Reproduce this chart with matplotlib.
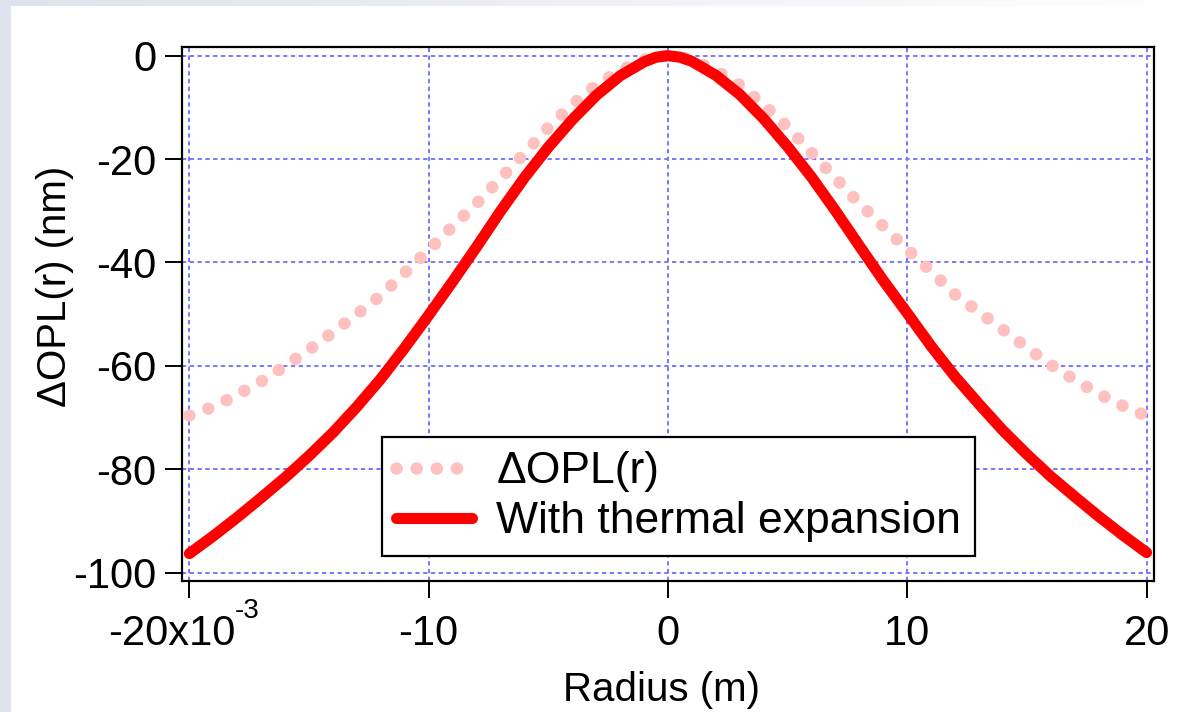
import numpy as np
import matplotlib
matplotlib.use("Agg")
import matplotlib.pyplot as plt
from matplotlib.patches import Rectangle
from matplotlib.colors import LinearSegmentedColormap

# ---------------- data (radius in units of 1e-3 m) ----------------
radius = [-20, -19, -18, -17, -16, -15, -14, -13, -12, -11, -10,
          -9, -8, -7, -6, -5, -4, -3, -2, -1, -0.5, 0,
          0.5, 1, 2, 3, 4, 5, 6, 7, 8, 9, 10,
          11, 12, 13, 14, 15, 16, 17, 18, 19, 20]

dopl = [-69.6, -67.9, -65.6, -63.0, -60.0, -56.9, -53.5, -50.0, -46.4, -42.0, -37.6,
        -33.0, -28.6, -23.8, -18.9, -13.9, -9.5, -5.7, -2.9, -0.8, -0.2, 0.0,
        -0.2, -0.8, -2.9, -5.7, -9.5, -13.8, -18.8, -23.7, -28.6, -33.0, -37.5,
        -41.7, -46.2, -49.6, -53.0, -56.5, -59.8, -62.7, -65.4, -67.7, -69.7]

thermal = [-96.3, -92.9, -89.3, -85.5, -81.6, -77.4, -72.9, -67.9, -62.5, -56.5, -50.2,
           -43.7, -37.0, -30.1, -23.6, -17.7, -12.4, -7.7, -3.9, -1.2, -0.3, 0.0,
           -0.3, -1.1, -3.8, -7.5, -12.2, -17.6, -23.5, -30.0, -36.8, -43.5, -49.8,
           -56.2, -62.1, -67.4, -72.5, -77.1, -81.4, -85.3, -89.1, -92.7, -96.1]

xticks = [-20, -10, 0, 10, 20]
xticklabels = ["", "-10", "0", "10", "20"]
first_xlabel = "-20x10"
first_xlabel_exp = "-3"
yticks = [0, -20, -40, -60, -80, -100]
yticklabels = ["0", "-20", "-40", "-60", "-80", "-100"]

labels = ["\u0394OPL(r)", "With thermal expansion"]

# ---------------- style ----------------
plt.rcParams["font.family"] = ["Liberation Sans", "DejaVu Sans"]

W, H = 1183, 712
fig = plt.figure(figsize=(W / 100, H / 100), dpi=100)
fig.patch.set_facecolor("white")

# light bluish frame strips (left and top)
fig.patches.append(Rectangle((0, 0), 11 / W, 1, transform=fig.transFigure,
                             facecolor="#dfe3ed", edgecolor="none", zorder=0))
gax = fig.add_axes([0, 1 - 6 / H, 1, 6 / H], zorder=0)
grad = np.linspace(0, 1, 256)[None, :]
cm = LinearSegmentedColormap.from_list("g", ["#dfe3ed", "#eef0f5", "#ffffff"])
gax.imshow(grad, aspect="auto", cmap=cm, extent=[0, 1, 0, 1])
gax.set_axis_off()

left, right, top, bottom = 181.7, 1154, 47.3, 581
ax = fig.add_axes([left / W, 1 - bottom / H, (right - left) / W, (bottom - top) / H])

grid_color = "#7878ff"
ax.plot(radius, dopl, color="#ffc0c0", lw=9, linestyle=(0, (0.01, 1.6)),
        dash_capstyle="round", solid_capstyle="round", zorder=3, label=labels[0])
ax.plot(radius, thermal, color="#ff0000", lw=8, solid_capstyle="round",
        solid_joinstyle="round", zorder=4, label=labels[1])

ax.set_xlim(-20.32, 20.31)
ax.set_ylim(-101.6, 1.62)

ax.set_xticks(xticks, labels=xticklabels)
ax.set_yticks(yticks, labels=yticklabels)

ax.grid(True, color=grid_color, linestyle=(0, (2.2, 1.8)), linewidth=1.4, zorder=1)
ax.set_axisbelow(True)

for s in ["left", "bottom", "top", "right"]:
    ax.spines[s].set_linewidth(1.6)
    ax.spines[s].set_color("black")

ax.tick_params(axis="both", which="major", direction="out", length=12.5,
               width=1.4, color="black", labelsize=30)
ax.tick_params(axis="x", pad=33.5)
ax.tick_params(axis="y", pad=5.5)
for t in ax.get_xticklabels():
    t.set_verticalalignment("baseline")

# first x tick label with its exponent, as in the original
base_y = (bottom - 645) / (bottom - top)
ax.text(-18.09, base_y, first_xlabel, transform=ax.get_xaxis_transform(),
        ha="right", va="baseline", fontsize=30, clip_on=False)
ax.text(-18.09, (bottom - 618) / (bottom - top), first_xlabel_exp,
        transform=ax.get_xaxis_transform(), ha="left", va="baseline",
        fontsize=20, clip_on=False)

ax.set_xlabel("Radius (m)", fontsize=29)
ax.xaxis.set_label_coords(0.493, -0.205)
ax.xaxis.label.set_verticalalignment("center")
ax.set_ylabel("\u0394OPL(r) (nm)", fontsize=29)
ax.yaxis.set_label_coords(-0.130, 0.552)
ax.yaxis.label.set_verticalalignment("center")

leg = ax.legend(loc="upper left", bbox_to_anchor=((382 - left) / (right - left),
                                                  (bottom - 437) / (bottom - top)),
                borderaxespad=0, fontsize=32, handlelength=1.7, handletextpad=0.55,
                borderpad=0.32, labelspacing=0.2, fancybox=False, framealpha=1,
                edgecolor="black", facecolor="white")
leg.get_frame().set_linewidth(1.6)
leg.set_zorder(10)

fig.savefig("out.png", dpi=100, facecolor=fig.get_facecolor())
